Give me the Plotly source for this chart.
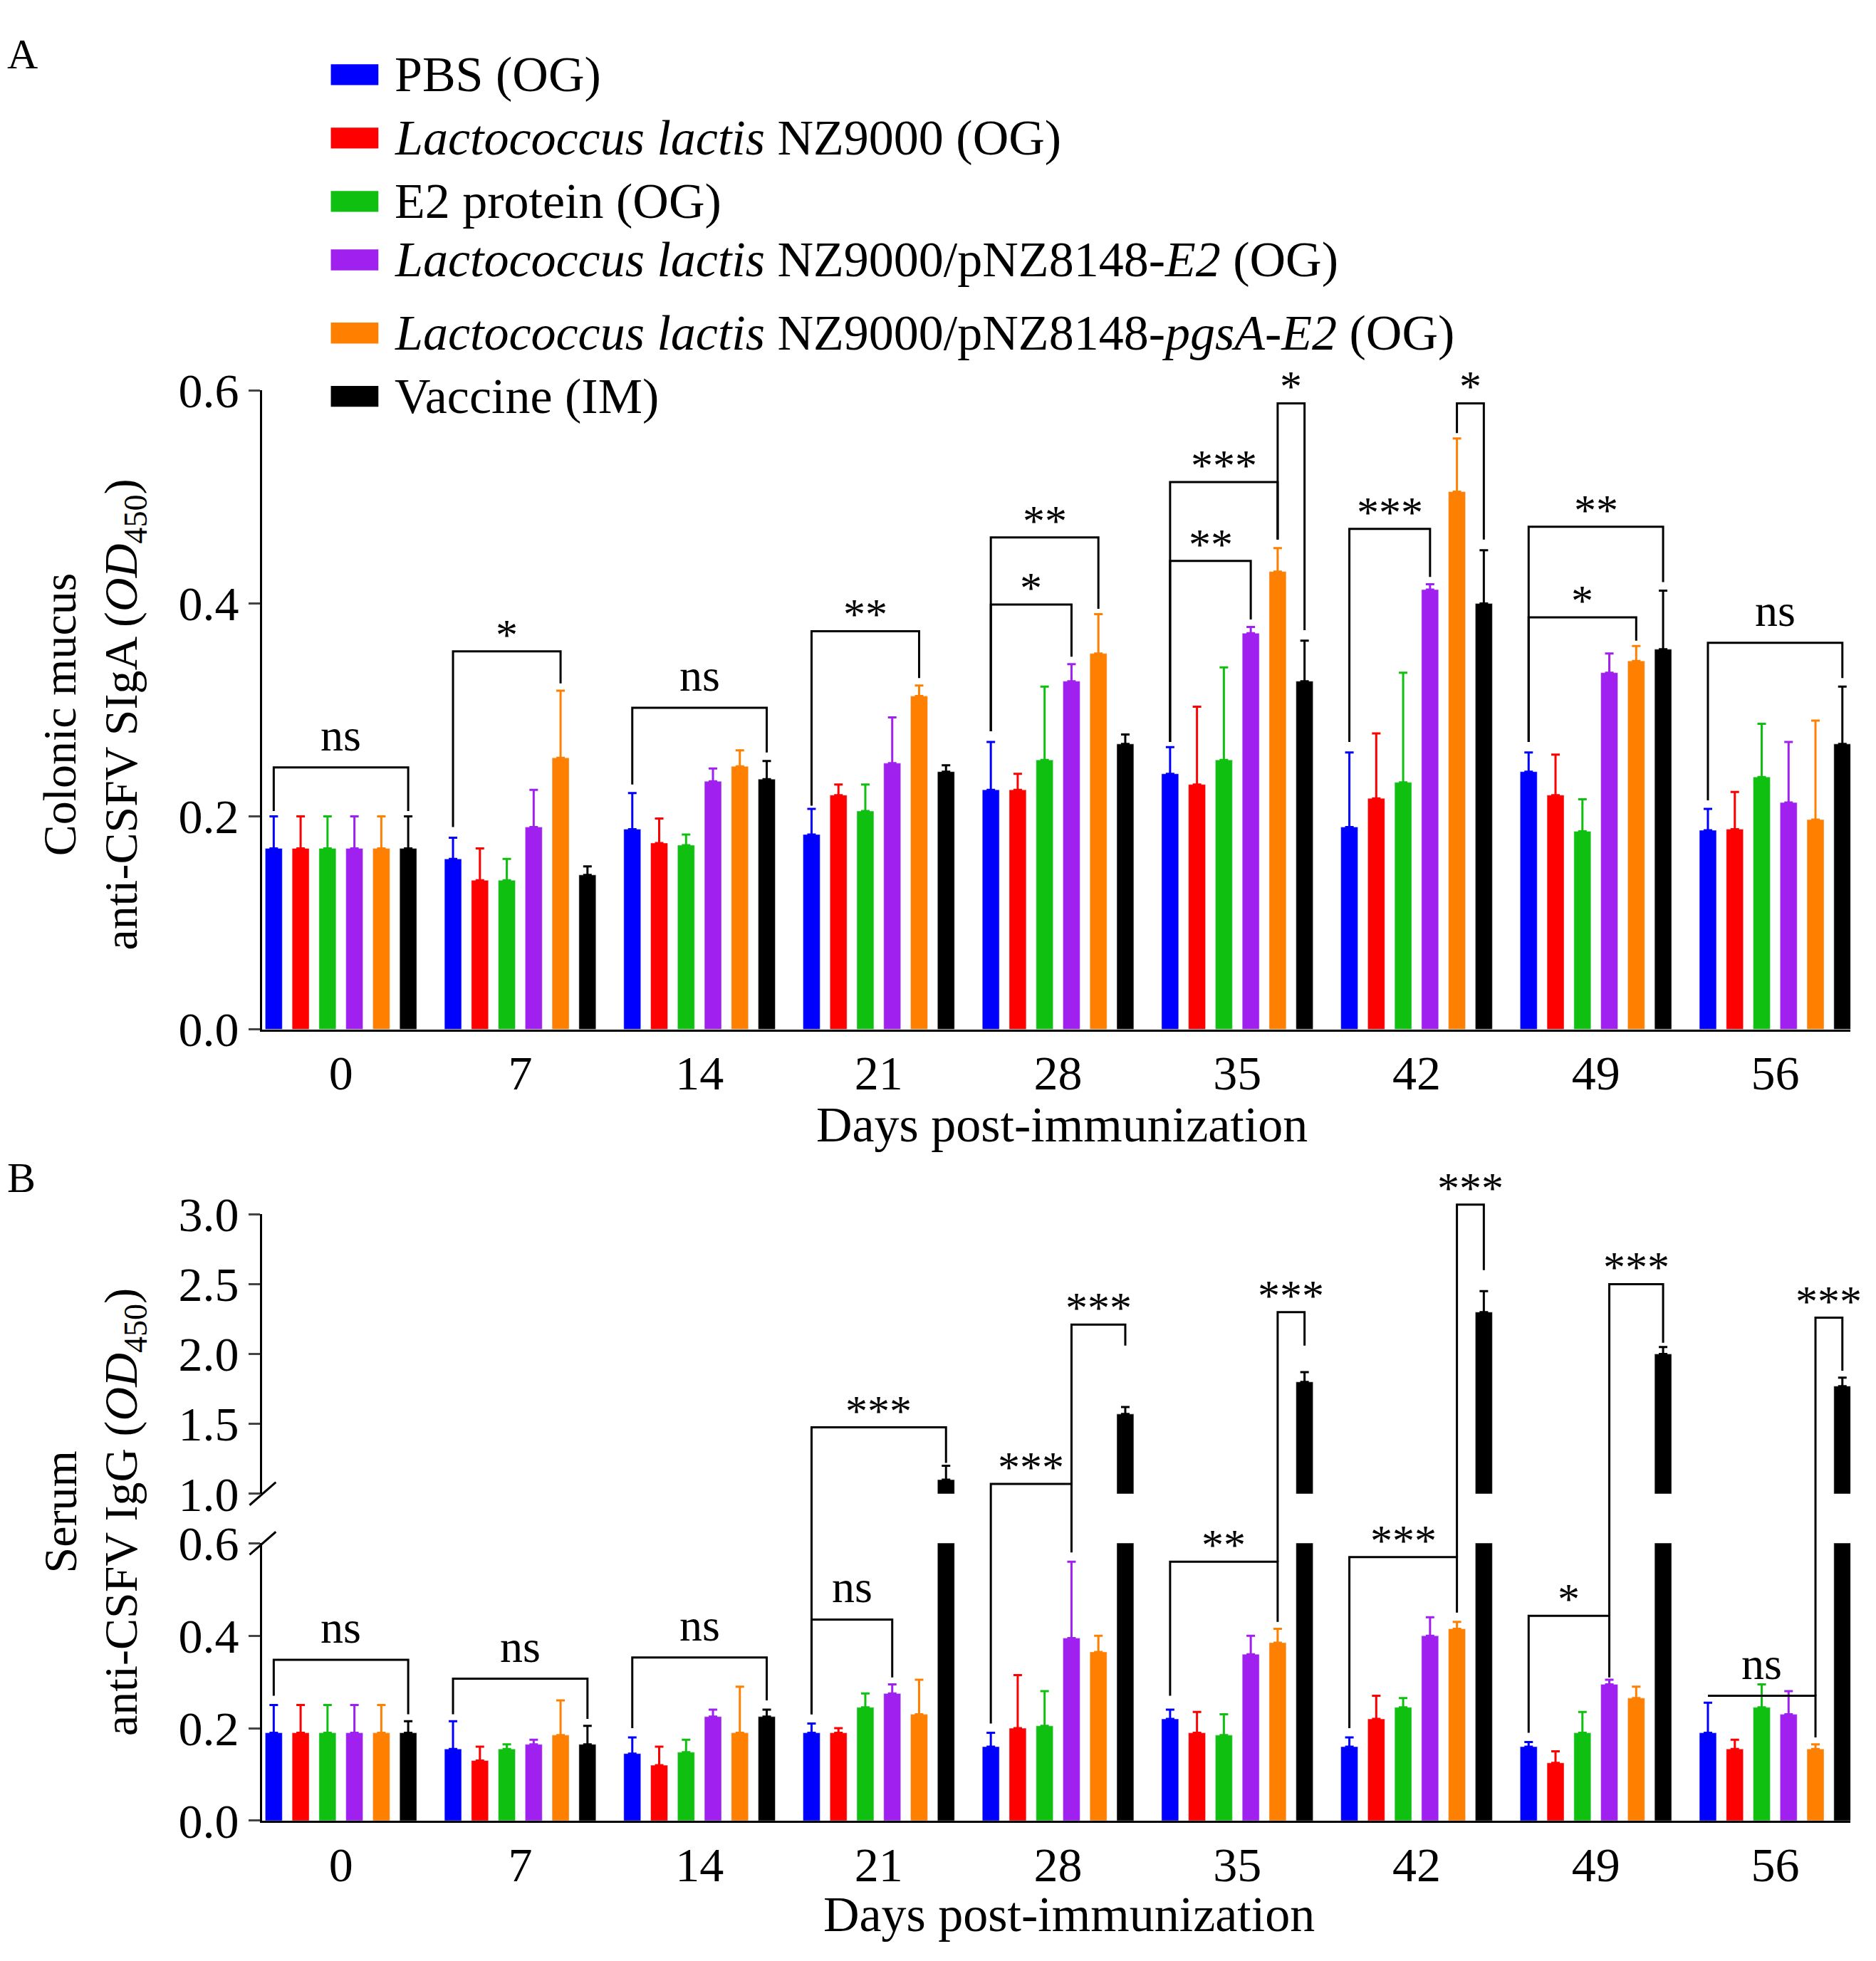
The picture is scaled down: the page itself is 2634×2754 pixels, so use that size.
import plotly.graph_objects as go

days = ["0", "7", "14", "21", "28", "35", "42", "49", "56"]
groups = ["PBS (OG)", "<i>Lactococcus lactis</i> NZ9000 (OG)", "E2 protein (OG)",
          "<i>Lactococcus lactis</i> NZ9000/pNZ8148-<i>E2</i> (OG)",
          "<i>Lactococcus lactis</i> NZ9000/pNZ8148-<i>pgsA</i>-<i>E2</i> (OG)", "Vaccine (IM)"]
colors = ["#0000FF", "#FF0000", "#10C010", "#A020F0", "#FF8000", "#000000"]

# Panel A: means and upper error tops, per series
sigA = [
    [0.17, 0.16, 0.188, 0.183, 0.225, 0.24, 0.19, 0.242, 0.187],
    [0.17, 0.14, 0.175, 0.22, 0.225, 0.23, 0.217, 0.22, 0.188],
    [0.17, 0.14, 0.173, 0.205, 0.253, 0.253, 0.232, 0.186, 0.237],
    [0.17, 0.19, 0.233, 0.25, 0.327, 0.372, 0.413, 0.335, 0.213],
    [0.17, 0.255, 0.247, 0.313, 0.353, 0.43, 0.505, 0.346, 0.197],
    [0.17, 0.145, 0.235, 0.242, 0.268, 0.327, 0.40, 0.357, 0.268],
]
sigA_top = [
    [0.2, 0.18, 0.222, 0.207, 0.27, 0.265, 0.26, 0.26, 0.207],
    [0.2, 0.17, 0.198, 0.23, 0.24, 0.303, 0.278, 0.258, 0.223],
    [0.2, 0.16, 0.183, 0.23, 0.322, 0.34, 0.335, 0.216, 0.287],
    [0.2, 0.225, 0.245, 0.293, 0.343, 0.378, 0.418, 0.353, 0.27],
    [0.2, 0.318, 0.262, 0.323, 0.39, 0.452, 0.555, 0.36, 0.29],
    [0.2, 0.153, 0.252, 0.248, 0.277, 0.365, 0.45, 0.412, 0.322],
]
# Panel B
iggB = [
    [0.19, 0.155, 0.145, 0.19, 0.16, 0.22, 0.16, 0.16, 0.19],
    [0.19, 0.13, 0.12, 0.19, 0.2, 0.19, 0.22, 0.125, 0.155],
    [0.19, 0.155, 0.148, 0.245, 0.205, 0.185, 0.245, 0.19, 0.245],
    [0.19, 0.165, 0.225, 0.275, 0.395, 0.36, 0.4, 0.295, 0.23],
    [0.19, 0.185, 0.19, 0.23, 0.365, 0.385, 0.415, 0.265, 0.155],
    [0.19, 0.165, 0.225, 1.1, 1.57, 1.8, 2.3, 2.0, 1.77],
]
iggB_top = [
    [0.25, 0.215, 0.18, 0.21, 0.19, 0.24, 0.18, 0.17, 0.255],
    [0.25, 0.16, 0.16, 0.2, 0.315, 0.235, 0.27, 0.15, 0.175],
    [0.25, 0.165, 0.175, 0.275, 0.28, 0.23, 0.265, 0.235, 0.295],
    [0.25, 0.175, 0.24, 0.295, 0.56, 0.4, 0.44, 0.305, 0.28],
    [0.25, 0.26, 0.29, 0.305, 0.4, 0.415, 0.43, 0.29, 0.165],
    [0.215, 0.205, 0.24, 1.2, 1.62, 1.87, 2.45, 2.05, 1.83],
]
# brackets: (group, barA, barB, bottomA, height, bottomB, label)
bracketsA = [
    (0, 0, 5, 0.205, 0.246, 0.205, "ns"),
    (1, 0, 4, 0.19, 0.355, 0.325, "*"),
    (2, 0, 5, 0.23, 0.302, 0.26, "ns"),
    (3, 0, 4, 0.21, 0.374, 0.33, "**"),
    (4, 0, 4, 0.28, 0.462, 0.395, "**"),
    (4, 0, 3, 0.28, 0.399, 0.35, "*"),
    (5, 0, 4, 0.27, 0.514, 0.46, "***"),
    (5, 0, 3, 0.27, 0.44, 0.385, "**"),
    (5, 4, 5, 0.46, 0.588, 0.375, "*"),
    (6, 0, 3, 0.27, 0.47, 0.425, "***"),
    (6, 4, 5, 0.56, 0.588, 0.46, "*"),
    (7, 0, 5, 0.27, 0.472, 0.42, "**"),
    (7, 0, 4, 0.27, 0.387, 0.365, "*"),
    (8, 0, 5, 0.215, 0.363, 0.33, "ns"),
]
bracketsB = [
    (0, 0, 5, 0.27, 0.348, 0.23, "ns"),
    (1, 0, 5, 0.23, 0.307, 0.22, "ns"),
    (2, 0, 5, 0.2, 0.353, 0.26, "ns"),
    (3, 0, 3, 0.23, 0.435, 0.31, "ns"),
    (3, 0, 5, 0.23, 1.475, 1.22, "***"),
    (4, 0, 3, 0.21, 1.07, 0.58, "***"),
    (4, 3, 5, 1.07, 2.21, 2.06, "***"),
    (5, 0, 4, 0.27, 0.56, 0.43, "**"),
    (5, 4, 5, 0.56, 2.3, 2.06, "***"),
    (6, 0, 4, 0.2, 0.57, 0.45, "***"),
    (6, 4, 5, 0.57, 3.07, 2.6, "***"),
    (7, 0, 3, 0.19, 0.443, 0.31, "*"),
    (7, 3, 5, 0.443, 2.5, 2.08, "***"),
    (8, 0, 4, 0.27, 0.27, 0.18, "ns"),
    (8, 4, 5, 0.27, 2.26, 1.88, "***"),
]

FONT = "Liberation Serif"
SP, BW = 0.15, 0.095
A_DOM = (0.477, 0.812)
BL_DOM = (0.062, 0.2075)
BU_DOM = (0.2335, 0.380)


def pa(v):
    return A_DOM[0] + v / 0.6 * (A_DOM[1] - A_DOM[0])


def pb(v):
    if v <= 0.6:
        return BL_DOM[0] + v / 0.6 * (BL_DOM[1] - BL_DOM[0])
    return BU_DOM[0] + (v - 1) / 2 * (BU_DOM[1] - BU_DOM[0])


def xpos(g, k):
    return g + (k - 2.5) * SP


fig = go.Figure()
for k in range(6):
    xs = [xpos(g, k) for g in range(9)]
    err = [t - m for t, m in zip(sigA_top[k], sigA[k])]
    eb = dict(type="data", array=err, arrayminus=[0] * 9, color=colors[k], thickness=3, width=6)
    fig.add_trace(go.Bar(x=xs, y=sigA[k], width=BW, marker_color=colors[k], error_y=eb,
                         xaxis="x", yaxis="y", showlegend=False))
    errb = [t - m for t, m in zip(iggB_top[k], iggB[k])]
    ebl = dict(type="data", array=[e if m <= 0.6 else 0 for e, m in zip(errb, iggB[k])],
               arrayminus=[0] * 9, color=colors[k], thickness=3, width=6)
    fig.add_trace(go.Bar(x=xs, y=iggB[k], width=BW, marker_color=colors[k], error_y=ebl,
                         xaxis="x2", yaxis="y2", showlegend=False))
    if k == 5:
        ebu = dict(type="data", array=[e if m > 0.6 else 0 for e, m in zip(errb, iggB[k])],
                   arrayminus=[0] * 9, color=colors[k], thickness=3, width=6)
        fig.add_trace(go.Bar(x=xs, y=iggB[k], width=BW, marker_color=colors[k], error_y=ebu,
                             xaxis="x2", yaxis="y3", showlegend=False))

shapes, anns = [], []
lw = dict(color="black", width=3)
for brs, xr, conv in ((bracketsA, "x", pa), (bracketsB, "x2", pb)):
    for g, ka, kb, ya, h, yb, lab in brs:
        xa, xb = xpos(g, ka), xpos(g, kb)
        path = f"M {xa},{conv(ya)} L {xa},{conv(h)} L {xb},{conv(h)} L {xb},{conv(yb)}"
        shapes.append(dict(type="path", path=path, xref=xr, yref="paper", line=lw))
        anns.append(dict(text=lab, x=(xa + xb) / 2, y=conv(h), xref=xr, yref="paper",
                         yanchor="bottom", showarrow=False, yshift=(8 if lab == "ns" else -12),
                         font=dict(size=64 if lab == "ns" else 62, family=FONT, color="black")))

# axis break marks
for yy in (BU_DOM[0], BL_DOM[1]):
    shapes.append(dict(type="line", xref="paper", yref="paper", x0=0.130, x1=0.144,
                       y0=yy - 0.006, y1=yy + 0.006, line=lw))

# legend
leg_y = [41, 93, 145, 193, 253, 305]
for k in range(6):
    yp = 1 - (leg_y[k] - 6) / 1565
    shapes.append(dict(type="rect", xref="paper", yref="paper", x0=260 / 1500, x1=298 / 1500,
                       y0=yp - 0.0055, y1=yp + 0.0055, fillcolor=colors[k], line=dict(width=0)))
    anns.append(dict(text=groups[k], x=310 / 1500, y=yp, xref="paper", yref="paper",
                     xanchor="left", yanchor="middle", showarrow=False,
                     font=dict(size=70, family=FONT, color="black")))

anns += [
    dict(text="A", x=0.0, y=1 - 18 / 1565, xref="paper", yref="paper", xanchor="left", yanchor="middle",
         showarrow=False, font=dict(size=60, family=FONT, color="black")),
    dict(text="B", x=0.0, y=1 - 940 / 1565, xref="paper", yref="paper", xanchor="left", yanchor="middle",
         showarrow=False, font=dict(size=60, family=FONT, color="black")),
    dict(text="Colonic mucus<br>anti-CSFV SIgA (<i>OD</i><sub>450</sub>)", x=0.047, y=0.642,
         xref="paper", yref="paper", xanchor="center", yanchor="middle", textangle=-90, showarrow=False,
         font=dict(size=66, family=FONT, color="black")),
    dict(text="Serum<br>anti-CSFV IgG (<i>OD</i><sub>450</sub>)", x=0.047, y=0.224,
         xref="paper", yref="paper", xanchor="center", yanchor="middle", textangle=-90, showarrow=False,
         font=dict(size=66, family=FONT, color="black")),
    dict(text="Days post-immunization", x=0.563, y=1 - 897 / 1565, xref="paper", yref="paper",
         yanchor="middle", showarrow=False, font=dict(size=70, family=FONT, color="black")),
    dict(text="Days post-immunization", x=0.567, y=1 - 1545 / 1565, xref="paper", yref="paper",
         yanchor="middle", showarrow=False, font=dict(size=70, family=FONT, color="black")),
]

axfont = dict(size=68, family=FONT, color="black")
xcommon = dict(range=[-0.44, 8.42], tickvals=list(range(9)), ticktext=days, showline=True,
               linecolor="black", linewidth=3, ticks="", tickfont=axfont, showgrid=False,
               zeroline=False, domain=[205 / 1500, 1475 / 1500])
ycommon = dict(showline=True, linecolor="black", linewidth=3, ticks="outside", ticklen=16,
               tickwidth=3, tickfont=axfont, showgrid=False, zeroline=False, tickformat=".1f")
fig.update_layout(
    width=2634, height=2754, margin=dict(l=0, r=0, t=0, b=0),
    plot_bgcolor="white", paper_bgcolor="white", barmode="overlay",
    xaxis=dict(**xcommon, anchor="y"),
    yaxis=dict(**ycommon, domain=list(A_DOM), range=[0, 0.6], tickvals=[0, 0.2, 0.4, 0.6], anchor="x"),
    xaxis2=dict(**xcommon, anchor="y2"),
    yaxis2=dict(**ycommon, domain=list(BL_DOM), range=[0, 0.6], tickvals=[0, 0.2, 0.4, 0.6], anchor="x2"),
    yaxis3=dict(**ycommon, domain=list(BU_DOM), range=[1, 3], tickvals=[1, 1.5, 2, 2.5, 3], anchor="x2"),
    shapes=shapes, annotations=anns,
)
fig.write_html("out.html")
